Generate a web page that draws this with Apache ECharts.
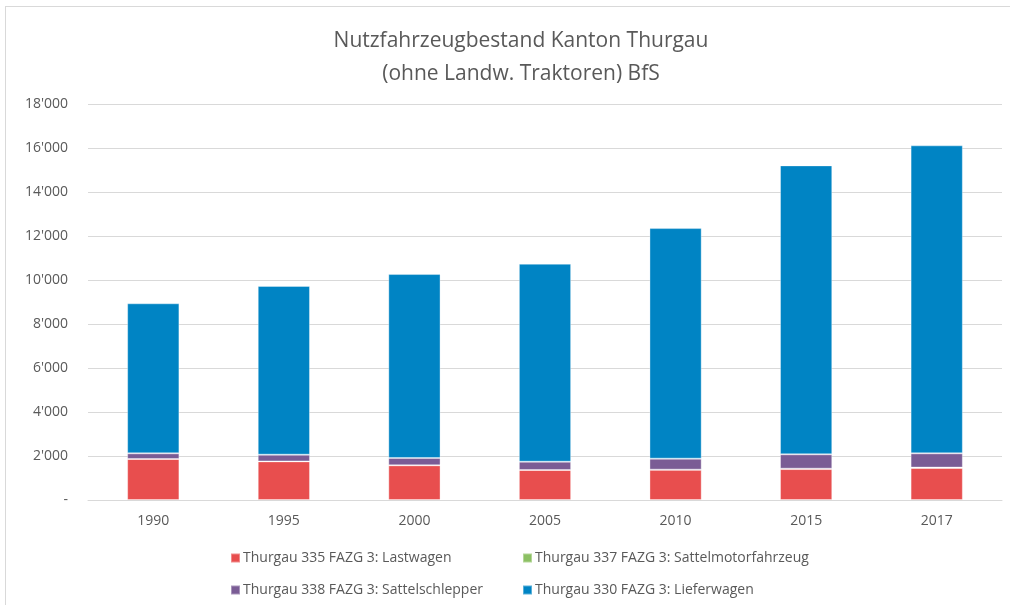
<!DOCTYPE html>
<html>
<head>
<meta charset="utf-8">
<script src="https://cdn.jsdelivr.net/npm/echarts@6/dist/echarts.min.js"></script>
<style>
  html, body { margin: 0; padding: 0; background: #fff; }
  #frame {
    position: absolute; left: 5px; top: 6px; width: 1100px; height: 700px;
    border-left: 1px solid #d9d9d9; border-top: 1px solid #d9d9d9;
  }
  #chart { position: absolute; left: 0; top: 0; width: 1010px; height: 605px; }
</style>
</head>
<body>
<div id="frame"></div>
<div id="chart"></div>
<script>
// Jahre
const years = ['1990', '1995', '2000', '2005', '2010', '2015', '2017']
// Bestand pro Fahrzeugart
const lastwagen = [1865, 1755, 1575, 1365, 1370, 1405, 1455]
const sattelmotor = [0, 0, 0, 0, 10, 20, 20]
const sattelschlepper = [255, 305, 335, 375, 500, 650, 645]
const lieferwagen = [6820, 7670, 8360, 9000, 10480, 13135, 14000]

const names = [
  'Thurgau 335 FAZG 3: Lastwagen',
  'Thurgau 337 FAZG 3: Sattelmotorfahrzeug',
  'Thurgau 338 FAZG 3: Sattelschlepper',
  'Thurgau 330 FAZG 3: Lieferwagen'
]
const colors = ['#e84e4e', '#8cc063', '#7a5c95', '#0084c4']

const font = '"Open Sans", "Noto Sans", sans-serif'
const grey = '#595959'

function fmt(v) {
  if (v === 0) return '-'
  return String(v).replace(/\B(?=(\d{3})+(?!\d))/g, "'")
}

function bar(i, data) {
  return {
    name: names[i],
    type: 'bar',
    stack: 'total',
    barCategoryGap: '60%',
    data: data,
    itemStyle: { color: colors[i], borderColor: 'rgba(255,255,255,0.35)', borderWidth: 1 },
    emphasis: { disabled: true }
  }
}

const legendText = { color: grey, fontSize: 14, padding: [0, 0, 0, -2] }

const chart = echarts.init(document.getElementById('chart'))
chart.setOption({
  animation: false,
  textStyle: { fontFamily: font },
  title: {
    text: 'Nutzfahrzeugbestand Kanton Thurgau\n(ohne Landw. Traktoren) BfS',
    left: 516,
    textAlign: 'center',
    top: 20,
    textStyle: { fontSize: 21, fontWeight: 'normal', color: grey, lineHeight: 33, fontFamily: font }
  },
  grid: { left: 88, right: 8, top: 104, bottom: 105, containLabel: false },
  legend: [
    {
      data: [names[0], names[2]],
      orient: 'vertical',
      left: 225, top: 546,
      itemWidth: 9, itemHeight: 9, itemGap: 18,
      icon: 'rect',
      textStyle: legendText
    },
    {
      data: [names[1], names[3]],
      orient: 'vertical',
      left: 517, top: 546,
      itemWidth: 9, itemHeight: 9, itemGap: 18,
      icon: 'rect',
      textStyle: legendText
    }
  ],
  xAxis: {
    type: 'category',
    data: years,
    axisTick: { show: false },
    axisLine: { lineStyle: { color: '#d9d9d9' } },
    axisLabel: { color: grey, fontSize: 14, margin: 14 }
  },
  yAxis: {
    type: 'value',
    min: 0, max: 18000, interval: 2000,
    axisLine: { show: false },
    axisTick: { show: false },
    splitLine: { lineStyle: { color: '#d9d9d9' } },
    axisLabel: { color: grey, fontSize: 14, margin: 20, formatter: fmt }
  },
  series: [
    bar(0, lastwagen),
    bar(1, sattelmotor),
    bar(2, sattelschlepper),
    bar(3, lieferwagen)
  ]
})
</script>
</body>
</html>
